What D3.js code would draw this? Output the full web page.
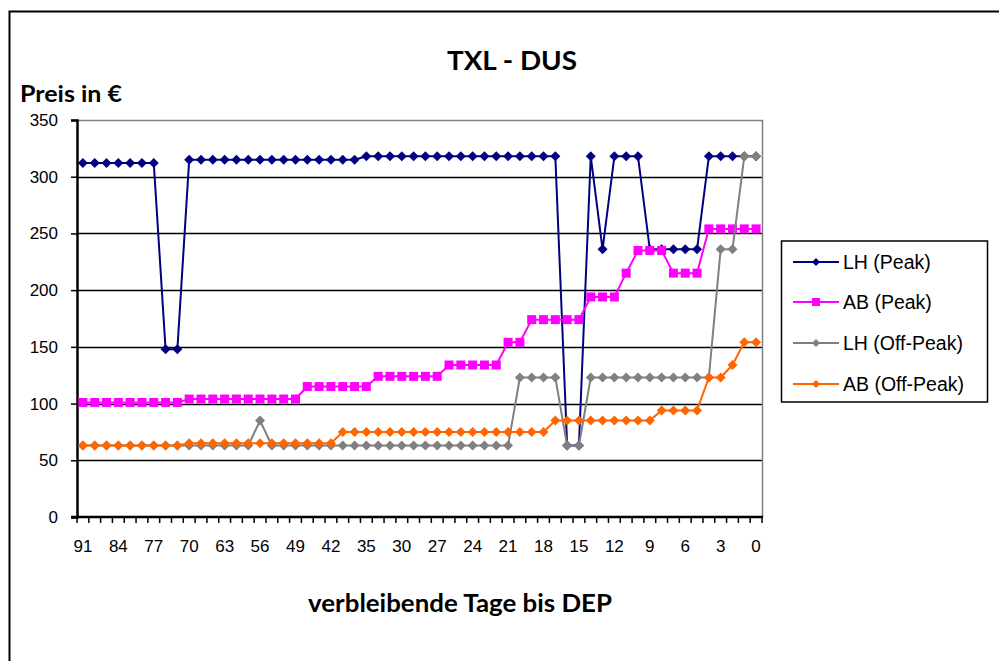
<!DOCTYPE html>
<html>
<head>
<meta charset="utf-8">
<script src="https://cdn.jsdelivr.net/npm/d3@7"></script>
<style>
  html, body { margin: 0; padding: 0; background: #fff; }
  svg { display: block; }
</style>
</head>
<body>
<svg id="chart" width="999" height="661"></svg>
<script>
// ---------- data ----------
const categories = [91,89,86,84,82,79,77,75,72,70,68,65,63,61,58,56,54,51,49,47,44,42,40,37,35,
  33,32,30,29,28,27,26,25,24,23,22,21,20,19,18,17,16,15,14,13,12,11,10,9,8,7,6,5,4,3,2,1,0];
const tickLabels = [91,84,77,70,63,56,49,42,35,30,27,24,21,18,15,12,9,6,3,0];
const yTicks = [0,50,100,150,200,250,300,350];

const lhPeak = [312,312,312,312,312,312,312,148,148,315,315,315,315,315,315,315,315,315,315,315,315,315,315,315,
  318,318,318,318,318,318,318,318,318,318,318,318,318,318,318,318,318,63,63,318,236,318,318,318,236,236,236,236,236,318,318,318,318,318];
const abPeak = [101,101,101,101,101,101,101,101,101,104,104,104,104,104,104,104,104,104,104,115,115,115,115,115,115,
  124,124,124,124,124,124,134,134,134,134,134,154,154,174,174,174,174,174,194,194,194,215,235,235,235,215,215,215,254,254,254,254,254];
const lhOff = [63,63,63,63,63,63,63,63,63,63,63,63,63,63,63,85,63,63,63,63,63,63,63,63,63,
  63,63,63,63,63,63,63,63,63,63,63,63,123,123,123,123,63,63,123,123,123,123,123,123,123,123,123,123,123,236,236,318,318];
const abOff = [63,63,63,63,63,63,63,63,63,65,65,65,65,65,65,65,65,65,65,65,65,65,75,75,75,
  75,75,75,75,75,75,75,75,75,75,75,75,75,75,75,85,85,85,85,85,85,85,85,85,94,94,94,94,123,123,134,154,154];

const seriesNames = ["LH (Peak)", "AB (Peak)", "LH (Off-Peak)", "AB (Off-Peak)"];
const seriesValues = [lhPeak, abPeak, lhOff, abOff];
const seriesColors = ["#000080", "#FF00FF", "#808080", "#FF6600"];
const seriesMarkers = ["diamond", "square", "diamond", "diamond"];

// ---------- layout ----------
const svg = d3.select("#chart");
const plot = { left: 77, right: 762, top: 120, bottom: 517 };

// outer frame
svg.append("rect").attr("x", 9.5).attr("y", 11.5).attr("width", 1000).attr("height", 660)
  .attr("fill", "none").attr("stroke", "#000").attr("stroke-width", 2);

const x = d3.scaleBand().domain(categories).range([plot.left, plot.right]).paddingInner(0).paddingOuter(0);
const y = d3.scaleLinear().domain([0, 350]).range([plot.bottom, plot.top]);

// gridlines
svg.append("g").selectAll("line").data(yTicks.filter(v => v > 0 && v < 350)).join("line")
  .attr("x1", plot.left).attr("x2", plot.right)
  .attr("y1", d => Math.round(y(d)) + 0.5).attr("y2", d => Math.round(y(d)) + 0.5)
  .attr("stroke", "#000").attr("stroke-width", 1.5);

// plot border (top & right)
svg.append("path")
  .attr("d", `M${plot.left},${plot.top + 0.5}H${plot.right + 0.5}V${plot.bottom}`)
  .attr("fill", "none").attr("stroke", "#808080").attr("stroke-width", 1.5);

// y axis
const yAxis = d3.axisLeft(y).tickValues(yTicks).tickSize(6).tickPadding(13);
const gy = svg.append("g").attr("transform", `translate(${plot.left},0)`).call(yAxis);
gy.select(".domain").attr("stroke", "#000").attr("stroke-width", 2.5);
gy.selectAll(".tick line").attr("stroke", "#000").attr("stroke-width", 1.5);
gy.selectAll(".tick text").attr("font-family", "Liberation Sans, Arial, sans-serif")
  .attr("font-size", 17).attr("fill", "#000");

// x axis: ticks at category boundaries
const boundaries = categories.map(c => x(c)).concat([plot.right]);
svg.append("g").selectAll("line").data(boundaries).join("line")
  .attr("x1", d => d).attr("x2", d => d)
  .attr("y1", plot.bottom).attr("y2", plot.bottom + 6)
  .attr("stroke", "#000").attr("stroke-width", 1.5);
const xAxis = d3.axisBottom(x).tickValues(tickLabels).tickSize(0).tickPadding(23);
const gx = svg.append("g").attr("transform", `translate(0,${plot.bottom})`).call(xAxis);
gx.select(".domain").remove();
gx.selectAll(".tick text").attr("font-family", "Liberation Sans, Arial, sans-serif")
  .attr("font-size", 17).attr("fill", "#000");
svg.append("line").attr("x1", plot.left - 6).attr("x2", plot.right + 1)
  .attr("y1", plot.bottom).attr("y2", plot.bottom)
  .attr("stroke", "#000").attr("stroke-width", 2.5);

// series
const cx = (c) => x(c) + x.bandwidth() / 2;
function marker(g, type, color, px, py, s) {
  if (type === "square") {
    g.append("rect").attr("x", px - s).attr("y", py - s).attr("width", 2 * s).attr("height", 2 * s).attr("fill", color);
  } else {
    g.append("path").attr("d", `M${px},${py - s}L${px + s},${py}L${px},${py + s}L${px - s},${py}Z`).attr("fill", color);
  }
}
const line = d3.line().x((d, i) => cx(categories[i])).y(d => y(d));
seriesValues.forEach((vals, si) => {
  const g = svg.append("g");
  g.append("path").datum(vals).attr("d", line).attr("fill", "none")
    .attr("stroke", seriesColors[si]).attr("stroke-width", 2).attr("stroke-linejoin", "round");
  vals.forEach((v, i) => marker(g, seriesMarkers[si], seriesColors[si], cx(categories[i]), y(v), seriesMarkers[si] === "square" ? 4.5 : 5));
});

// titles
svg.append("text").attr("x", 512).attr("y", 70).attr("text-anchor", "middle")
  .attr("font-family", "Lato, Open Sans, sans-serif").attr("font-weight", "bold").attr("font-size", 27)
  .attr("textLength", 130).attr("lengthAdjust", "spacingAndGlyphs")
  .text("TXL - DUS");
svg.append("text").attr("x", 20).attr("y", 102)
  .attr("font-family", "Lato, Open Sans, sans-serif").attr("font-weight", "bold").attr("font-size", 23)
  .attr("textLength", 102).attr("lengthAdjust", "spacingAndGlyphs")
  .text("Preis in €");
svg.append("text").attr("x", 460).attr("y", 612).attr("text-anchor", "middle")
  .attr("font-family", "Lato, Open Sans, sans-serif").attr("font-weight", "bold").attr("font-size", 24)
  .attr("textLength", 304).attr("lengthAdjust", "spacingAndGlyphs")
  .text("verbleibende Tage bis DEP");

// legend
const lg = svg.append("g");
lg.append("rect").attr("x", 781.5).attr("y", 241).attr("width", 206).attr("height", 161)
  .attr("fill", "#fff").attr("stroke", "#000").attr("stroke-width", 1.5);
const legendY = [262, 302, 343, 384];
seriesNames.forEach((name, si) => {
  const ly = legendY[si];
  lg.append("line").attr("x1", 793).attr("x2", 839).attr("y1", ly).attr("y2", ly)
    .attr("stroke", seriesColors[si]).attr("stroke-width", 2);
  marker(lg, seriesMarkers[si], seriesColors[si], 816, ly, seriesMarkers[si] === "square" ? 4 : 4);
  lg.append("text").attr("x", 843).attr("y", ly + 6.5)
    .attr("font-family", "Liberation Sans, Arial, sans-serif").attr("font-size", 19.5).text(name);
});
</script>
</body>
</html>
